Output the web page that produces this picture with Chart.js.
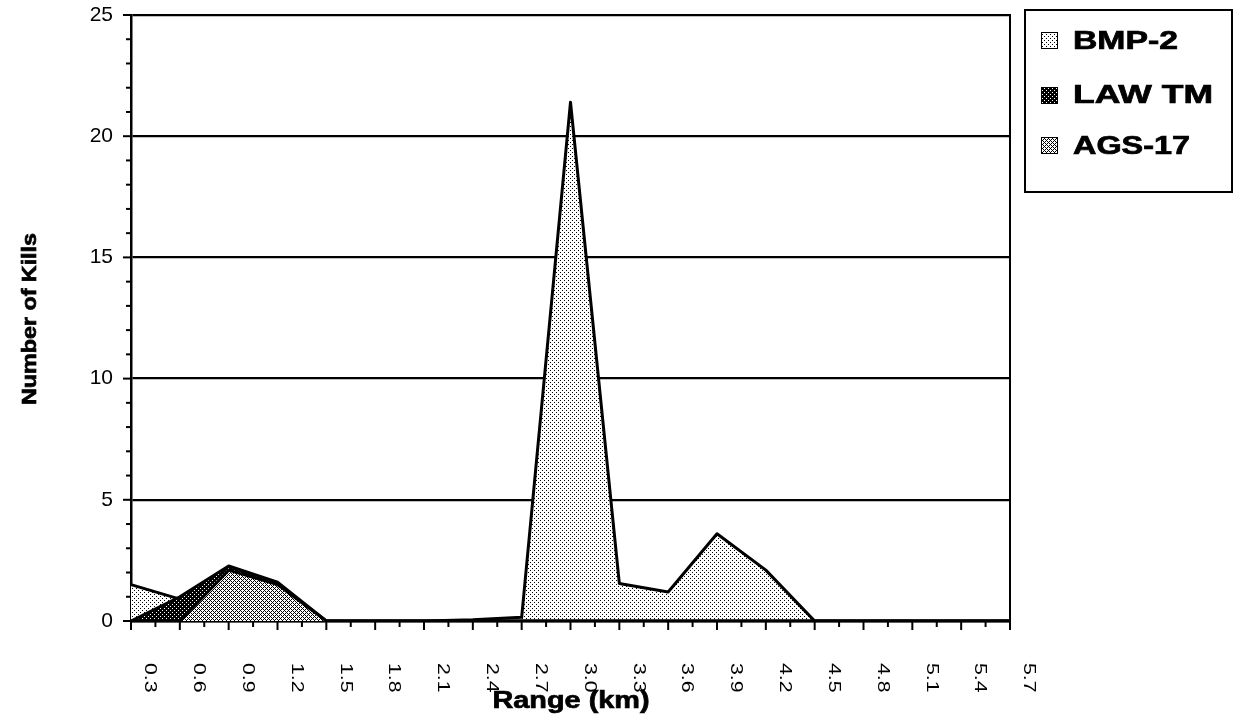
<!DOCTYPE html>
<html>
<head>
<meta charset="utf-8">
<title>Kills by Range</title>
<script src="https://cdn.jsdelivr.net/npm/chart.js@4/dist/chart.umd.min.js"></script>
<style>
  html, body { margin: 0; padding: 0; background: #fff; }
  #wrap { width: 1233px; height: 725px; }
  canvas { display: block; }
</style>
</head>
<body>
<div id="wrap"><canvas id="kills" width="1233" height="725"></canvas></div>
<script>
// Range bins (km)
const rangeLabels = ['0.3', '0.6', '0.9', '1.2', '1.5', '1.8', '2.1', '2.4', '2.7', '3.0',
                     '3.3', '3.6', '3.9', '4.2', '4.5', '4.8', '5.1', '5.4', '5.7'];

// Kills per range bin, one array per weapon system
const bmp2Kills = [1.5, 0.9, 0, 0, 0, 0, 0, 0.05, 0.15, 21.4, 1.55, 1.2, 3.6, 2.1, 0, 0, 0, 0, 0];
const lawKills  = [0, 1.0, 2.27, 1.6, 0, 0, 0, 0, 0, 0, 0, 0, 0, 0, 0, 0, 0, 0, 0];
const agsKills  = [0, 0, 2.1, 1.5, 0, 0, 0, 0, 0, 0, 0, 0, 0, 0, 0, 0, 0, 0, 0];

const seriesNames = ['BMP-2', 'LAW TM', 'AGS-17'];

const yMax = 25;
const yMajorStep = 5;

// Halftone-style fill patterns
function makePattern(size, cells, ink, paper) {
  const c = document.createElement('canvas');
  c.width = size; c.height = size;
  const g = c.getContext('2d');
  g.fillStyle = paper;
  g.fillRect(0, 0, size, size);
  g.fillStyle = ink;
  cells.forEach(([x, y]) => g.fillRect(x, y, 1, 1));
  return g.createPattern(c, 'repeat');
}
const lightDots  = makePattern(4, [[0, 0], [2, 2]], '#000', '#fff');
const darkDots   = makePattern(4, [[0, 0], [2, 2]], '#fff', '#000');
const mediumDots = makePattern(4, [[2, 0], [1, 1], [3, 1], [0, 2], [1, 3], [3, 3]], '#000', '#fff');

const FONT = '"Liberation Sans", Arial, Helvetica, sans-serif';

// Draws text stretched horizontally to a given width
function fitText(ctx, text, x, y, size, bold, width, angle, align, baseline) {
  ctx.save();
  ctx.font = (bold ? 'bold ' : '') + size + 'px ' + FONT;
  const natural = ctx.measureText(text).width;
  const sx = width ? width / natural : 1;
  ctx.translate(x, y);
  ctx.rotate(angle || 0);
  ctx.scale(sx, 1);
  ctx.textAlign = align || 'left';
  ctx.textBaseline = baseline || 'alphabetic';
  ctx.fillStyle = '#000';
  ctx.fillText(text, 0, 0);
  if (bold) {
    // a touch heavier, like the old bold face
    ctx.strokeStyle = '#000';
    ctx.lineWidth = 0.7;
    ctx.strokeText(text, 0, 0);
  }
  ctx.restore();
}

const decorations = {
  id: 'decorations',
  afterDraw(chart) {
    const ctx = chart.ctx;
    const area = chart.chartArea;
    const xs = chart.scales.x;
    const ys = chart.scales.y;
    ctx.save();
    ctx.strokeStyle = '#000';
    ctx.lineWidth = 2;

    // right frame edge
    ctx.beginPath();
    ctx.moveTo(area.right, area.top - 1);
    ctx.lineTo(area.right, area.bottom + 1);
    ctx.stroke();

    // y-axis tick marks: major every 5, minor every 1
    for (let v = 0; v <= yMax; v++) {
      const py = ys.getPixelForValue(v);
      const len = v % yMajorStep === 0 ? 8 : 5;
      ctx.beginPath();
      ctx.moveTo(area.left - len, py);
      ctx.lineTo(area.left, py);
      ctx.stroke();
    }

    // x-axis tick marks: major on each bin, minor between bins
    for (let i = 0; i < rangeLabels.length; i++) {
      const px = xs.getPixelForValue(i);
      ctx.beginPath();
      ctx.moveTo(px, area.bottom);
      ctx.lineTo(px, area.bottom + 9);
      ctx.stroke();
      if (i < rangeLabels.length - 1) {
        const mx = (px + xs.getPixelForValue(i + 1)) / 2;
        ctx.beginPath();
        ctx.moveTo(mx, area.bottom);
        ctx.lineTo(mx, area.bottom + 6);
        ctx.stroke();
      }
    }
    ctx.restore();

    // x-axis labels, turned to read downward
    rangeLabels.forEach((lab, i) => {
      const px = xs.getPixelForValue(i);
      ctx.save();
      ctx.font = '17px ' + FONT;
      ctx.translate(px + 19, area.bottom + 42);
      ctx.rotate(Math.PI / 2);
      ctx.scale(1.25, 1);
      ctx.textAlign = 'left';
      ctx.textBaseline = 'middle';
      ctx.fillStyle = '#000';
      ctx.fillText(lab, 0, 0);
      ctx.restore();
    });

    // axis titles
    fitText(ctx, 'Range (km)', 571, 708, 24, true, 157, 0, 'center', 'alphabetic');
    fitText(ctx, 'Number of Kills', 30, 319, 20, true, 172, -Math.PI / 2, 'center', 'middle');

    // legend
    ctx.save();
    ctx.strokeStyle = '#000';
    ctx.lineWidth = 2;
    ctx.strokeRect(1025, 10, 207, 182);
    const rows = [{ top: 32, base: 49, w: 105 }, { top: 87, base: 103, w: 140 }, { top: 137, base: 154, w: 117 }];
    chart.data.datasets.forEach((ds, i) => {
      const r = rows[i];
      ctx.fillStyle = ds.backgroundColor;
      ctx.fillRect(1041, r.top, 17, 17);
      ctx.lineWidth = 1;
      ctx.strokeRect(1041.5, r.top + 0.5, 16, 16);
      fitText(ctx, ds.label, 1073, r.base, 25, true, r.w, 0, 'left', 'alphabetic');
    });
    ctx.restore();
  }
};

function areaSeries(label, data, fill, order) {
  return {
    label: label,
    data: data,
    backgroundColor: fill,
    borderColor: '#000',
    borderWidth: 3,
    borderJoinStyle: 'round',
    pointRadius: 0,
    pointHoverRadius: 0,
    tension: 0,
    fill: 'origin',
    order: order
  };
}

new Chart(document.getElementById('kills'), {
  type: 'line',
  data: {
    labels: rangeLabels,
    datasets: [
      areaSeries(seriesNames[0], bmp2Kills, lightDots, 2),
      areaSeries(seriesNames[1], lawKills, darkDots, 1),
      areaSeries(seriesNames[2], agsKills, mediumDots, 0)
    ]
  },
  options: {
    responsive: false,
    animation: false,
    devicePixelRatio: 1,
    layout: { padding: { top: 15, right: 223, left: 0, bottom: 0 } },
    plugins: {
      legend: { display: false },
      tooltip: { enabled: false },
      title: { display: false }
    },
    scales: {
      x: {
        type: 'category',
        offset: false,
        grid: { display: false, drawTicks: false },
        border: { display: true, color: '#000', width: 2.5 },
        ticks: { display: false },
        afterFit: (s) => { s.height = 104; s.paddingLeft = 0; s.paddingRight = 0; }
      },
      y: {
        min: 0,
        max: yMax,
        ticks: {
          stepSize: 1,
          autoSkip: false,
          padding: 18,
          color: '#000',
          font: { family: FONT, size: 21 },
          callback: (v) => (v % yMajorStep === 0 ? String(v) : '')
        },
        grid: {
          drawTicks: false,
          lineWidth: 2.2,
          color: (c) => (c.tick && c.tick.value % yMajorStep === 0 ? '#000' : 'rgba(0,0,0,0)')
        },
        border: { display: true, color: '#000', width: 2.5 },
        afterFit: (s) => { s.width = 131; s.paddingTop = 0; s.paddingBottom = 0; }
      }
    }
  },
  plugins: [decorations]
});
</script>
</body>
</html>
